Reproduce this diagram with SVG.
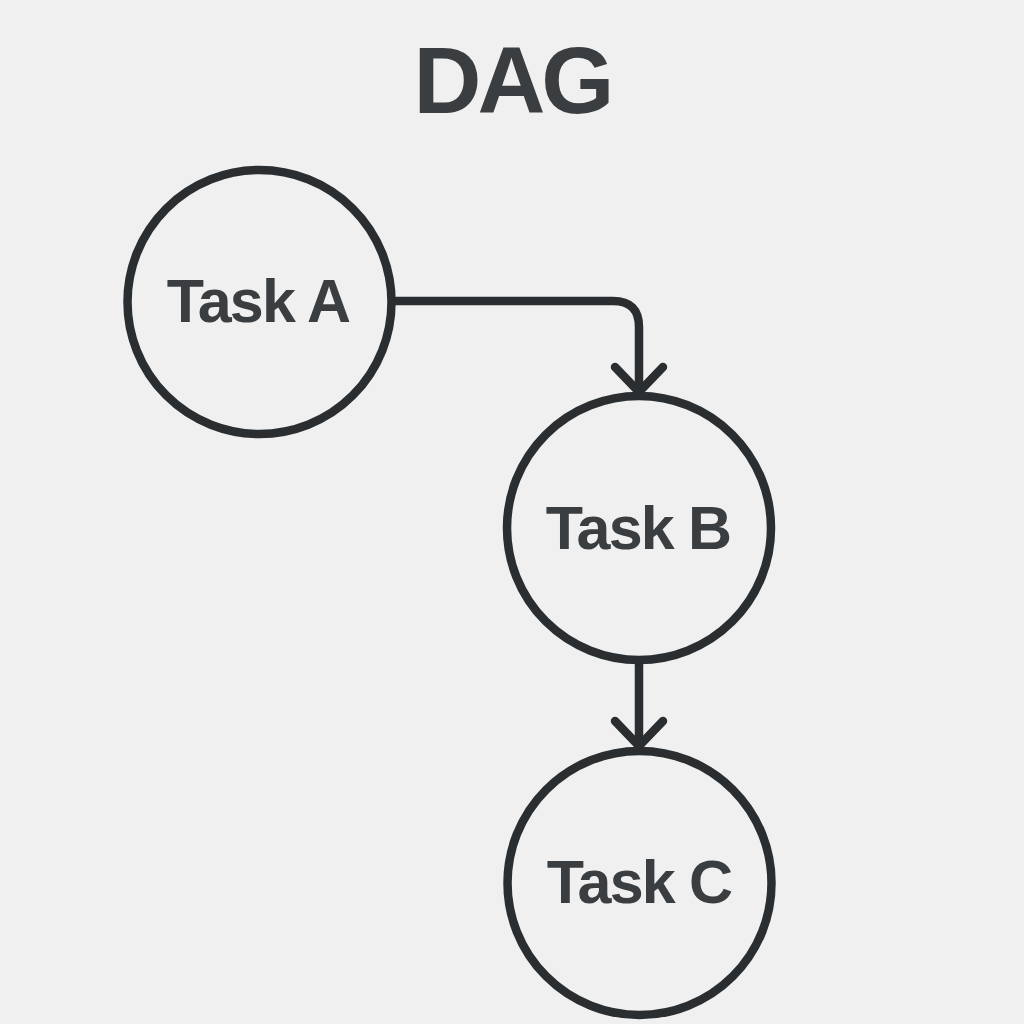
<svg xmlns="http://www.w3.org/2000/svg" width="1024" height="1024" viewBox="0 0 1024 1024">
<style>
.node{fill:none;stroke:#2a2e30;stroke-width:8.5}
.lbl{font-family:"Liberation Sans",Arial,sans-serif;font-weight:bold;font-size:61px;fill:#3b3e41;text-anchor:middle;letter-spacing:-1.8px}
.title{font-family:"Liberation Sans",Arial,sans-serif;font-weight:bold;font-size:94px;fill:#3b3e41;text-anchor:middle;letter-spacing:-4px}
.edge{fill:none;stroke:#2a2e30;stroke-width:8.5;stroke-linecap:round;stroke-linejoin:round}
</style>
<rect width="1024" height="1024" fill="#f0f0f0"/>
<text class="title" x="512" y="113">DAG</text>
<g id="connectors">
<path class="edge" d="M396 301 H613 Q639 301 639 327 V392"/>
<path class="edge" d="M615 367 L639 392 L663 367"/>
<path class="edge" d="M639 662 V746"/>
<path class="edge" d="M615 721 L639 746 L663 721"/>
</g>
<g id="taskA">
<circle class="node" cx="259.5" cy="302" r="132"/>
<text class="lbl" x="258" y="322">Task A</text>
</g>
<g id="taskB">
<circle class="node" cx="639" cy="528" r="132"/>
<text class="lbl" x="638" y="549">Task B</text>
</g>
<g id="taskC">
<circle class="node" cx="639.5" cy="883" r="132"/>
<text class="lbl" x="639" y="903">Task C</text>
</g>
</svg>
